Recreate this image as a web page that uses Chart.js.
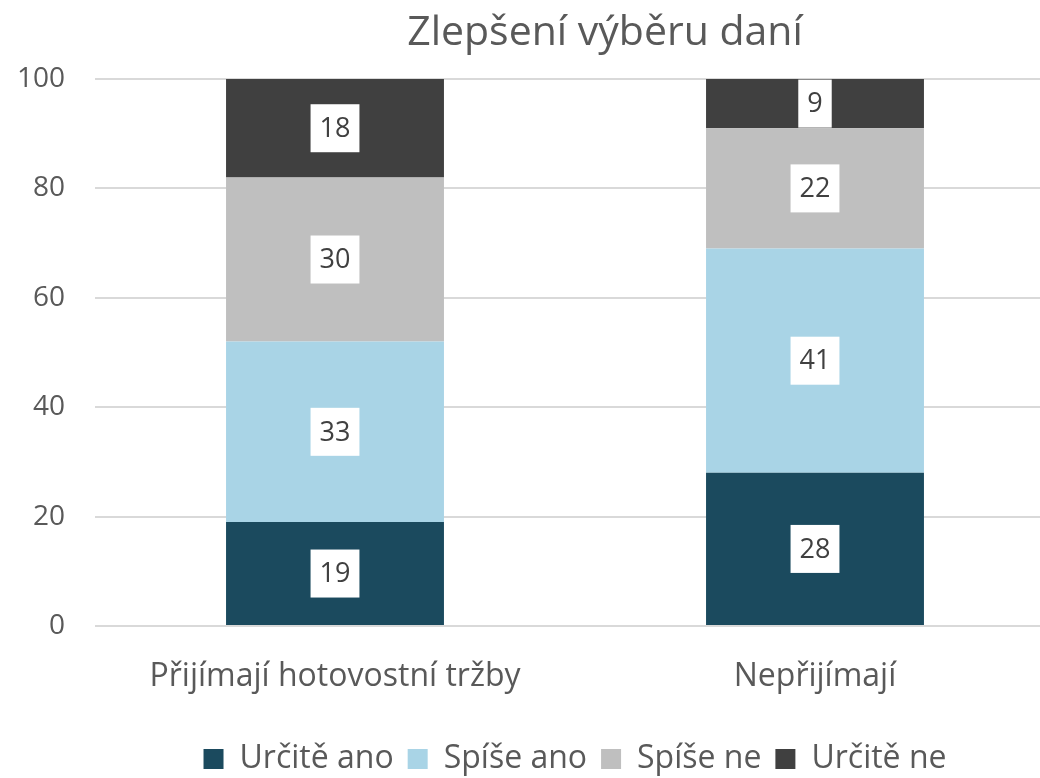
<!DOCTYPE html>
<html>
<head>
<meta charset="utf-8">
<script src="https://cdn.jsdelivr.net/npm/chart.js@4"></script>
<style>
  html, body { margin: 0; padding: 0; background: #fff; overflow: hidden; }
  #wrap { width: 1040px; height: 778px; overflow: hidden; }
  #box { width: 1150px; height: 778px; }
</style>
</head>
<body>
<div id="wrap"><div id="box"><canvas id="taxChart"></canvas></div></div>
<script>
const categories = ['Přijímají hotovostní tržby', 'Nepřijímají'];
const seriesNames = ['Určitě ano', 'Spíše ano', 'Spíše ne', 'Určitě ne'];
const urciteAno = [19, 28];
const spiseAno = [33, 41];
const spiseNe = [30, 22];
const urciteNe = [18, 9];
const yTicks = [0, 20, 40, 60, 80, 100];
const chartTitle = 'Zlepšení výběru daní';

const colors = ['#1b4a5e', '#a9d4e6', '#bfbfbf', '#404040'];
const font = '"Open Sans", sans-serif';

// white boxes with values in the middle of each segment
const valueBoxes = {
    id: 'valueBoxes',
    afterDatasetsDraw(chart) {
        const ctx = chart.ctx;
        ctx.save();
        ctx.font = '27px ' + font;
        ctx.textAlign = 'center';
        ctx.textBaseline = 'middle';
        chart.data.datasets.forEach(function (ds, i) {
            chart.getDatasetMeta(i).data.forEach(function (bar, j) {
                const txt = String(ds.data[j]);
                const w = ctx.measureText(txt).width + 18;
                const h = 48;
                const cy = (bar.y + bar.base) / 2;
                ctx.fillStyle = '#fff';
                ctx.fillRect(bar.x - w / 2, cy - h / 2, w, h);
                ctx.fillStyle = '#404040';
                ctx.fillText(txt, bar.x, cy + 1);
            });
        });
        ctx.restore();
    }
};

// title is a bit right of centre in the original
const titlePlugin = {
    id: 'titleText',
    afterDraw(chart) {
        const ctx = chart.ctx;
        ctx.save();
        ctx.font = '41px ' + font;
        ctx.fillStyle = '#595959';
        ctx.textAlign = 'center';
        ctx.textBaseline = 'middle';
        ctx.fillText(chartTitle, 605, 33);
        ctx.restore();
    }
};

// legend sits under the middle of the plot, not the whole box
const centerLegend = {
    id: 'centerLegend',
    afterLayout(chart) {
        const lg = chart.legend;
        const a = chart.chartArea;
        const shift = (a.left + a.right) / 2 - (lg.left + lg.right) / 2;
        lg.left += shift;
        lg.right += shift;
        lg.top += 7;
        lg.bottom += 7;
    }
};

const ctx = document.getElementById('taxChart').getContext('2d');
new Chart(ctx, {
    type: 'bar',
    data: {
        labels: categories,
        datasets: [urciteAno, spiseAno, spiseNe, urciteNe].map(function (d, i) {
            return {
                label: seriesNames[i],
                data: d,
                backgroundColor: colors[i],
                barPercentage: 1,
                categoryPercentage: 0.454
            };
        })
    },
    options: {
        responsive: true,
        maintainAspectRatio: false,
        animation: false,
        layout: { padding: { top: 79, right: 95, left: 0, bottom: 0 } },
        plugins: {
            title: { display: false },
            tooltip: { enabled: false },
            legend: {
                position: 'bottom',
                labels: {
                    color: '#595959',
                    font: { family: font, size: 32 },
                    boxWidth: 20,
                    boxHeight: 20,
                    padding: 14
                }
            }
        },
        scales: {
            x: {
                stacked: true,
                grid: { display: false },
                border: { display: false },
                ticks: {
                    color: '#595959',
                    font: { family: font, size: 32 },
                    padding: 24
                },
                afterFit: function (scale) { scale.height = 96; }
            },
            y: {
                stacked: true,
                min: 0,
                max: 100,
                afterBuildTicks: function (scale) {
                    scale.ticks = yTicks.map(function (v) { return { value: v }; });
                },
                grid: { color: '#d9d9d9', lineWidth: 2, drawTicks: false },
                border: { display: false },
                ticks: {
                    color: '#595959',
                    font: { family: font, size: 28 },
                    padding: 30
                },
                afterFit: function (scale) { scale.width = 95; }
            }
        }
    },
    plugins: [valueBoxes, titlePlugin, centerLegend]
});
</script>
</body>
</html>
